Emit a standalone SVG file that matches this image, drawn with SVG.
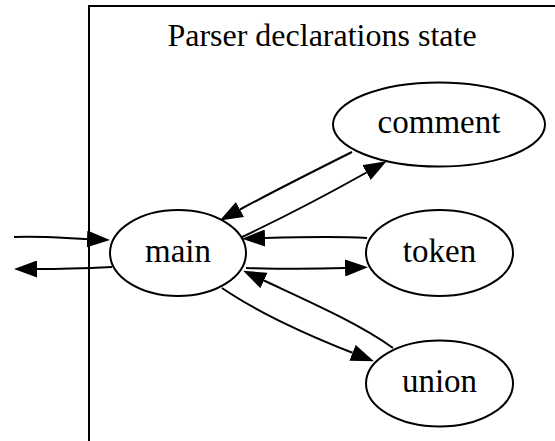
<svg xmlns="http://www.w3.org/2000/svg" width="555" height="441" viewBox="0 0 555 441">
  <style>
    .node ellipse { fill: #ffffff; stroke: #000000; stroke-width: 2; }
    .label { font-family: "Liberation Serif", "Times New Roman", serif; font-size: 33px; fill: #000000; text-anchor: middle; }
    .title { font-size: 32px; }
    .edge { fill: none; stroke: #000000; stroke-width: 2; marker-end: url(#arrow); }
    .cluster { fill: none; stroke: #000000; stroke-width: 2; }
  </style>
  <defs>
    <!-- filled triangular arrowhead; its base sits on the path end -->
    <marker id="arrow" markerUnits="userSpaceOnUse" markerWidth="23" markerHeight="17" viewBox="0 0 23 17" refX="0" refY="8.5" orient="auto">
      <path d="M0,0 L23,8.5 L0,17 Z" fill="#000000"/>
    </marker>
  </defs>
  <rect width="555" height="441" fill="#ffffff"/>

  <!-- cluster frame -->
  <g id="cluster_declarations">
    <rect class="cluster" x="89" y="6" width="500" height="460"/>
    <text class="label title" x="322" y="46">Parser declarations state</text>
  </g>

  <!-- connectors -->
  <g id="edges">
    <path class="edge" d="M14,237 C40,236 64,238 87,239"/>
    <path class="edge" d="M112,267 C90,268 64,269 37,269"/>
    <path class="edge" d="M352,152 C318,169 276,190 240,209.5"/>
    <path class="edge" d="M242,237 C280,219 330,193 366.5,172.5"/>
    <path class="edge" d="M367,238 C335,236 300,237 265,238"/>
    <path class="edge" d="M246,268 C280,269 315,269 345,268"/>
    <path class="edge" d="M393,348 C360,324 310,302 264,280.5"/>
    <path class="edge" d="M222,288 C260,314 310,336 352.5,352.8"/>
  </g>

  <!-- nodes -->
  <g id="main" class="node">
    <ellipse cx="178" cy="253" rx="68" ry="43"/>
    <text class="label" x="178" y="262">main</text>
  </g>
  <g id="comment" class="node">
    <ellipse cx="439" cy="124.5" rx="106" ry="42"/>
    <text class="label" x="439" y="133">comment</text>
  </g>
  <g id="token" class="node">
    <ellipse cx="439.5" cy="253" rx="73.5" ry="43"/>
    <text class="label" x="439.5" y="262">token</text>
  </g>
  <g id="union" class="node">
    <ellipse cx="439.5" cy="383.5" rx="73.5" ry="43"/>
    <text class="label" x="439.5" y="392">union</text>
  </g>
</svg>
